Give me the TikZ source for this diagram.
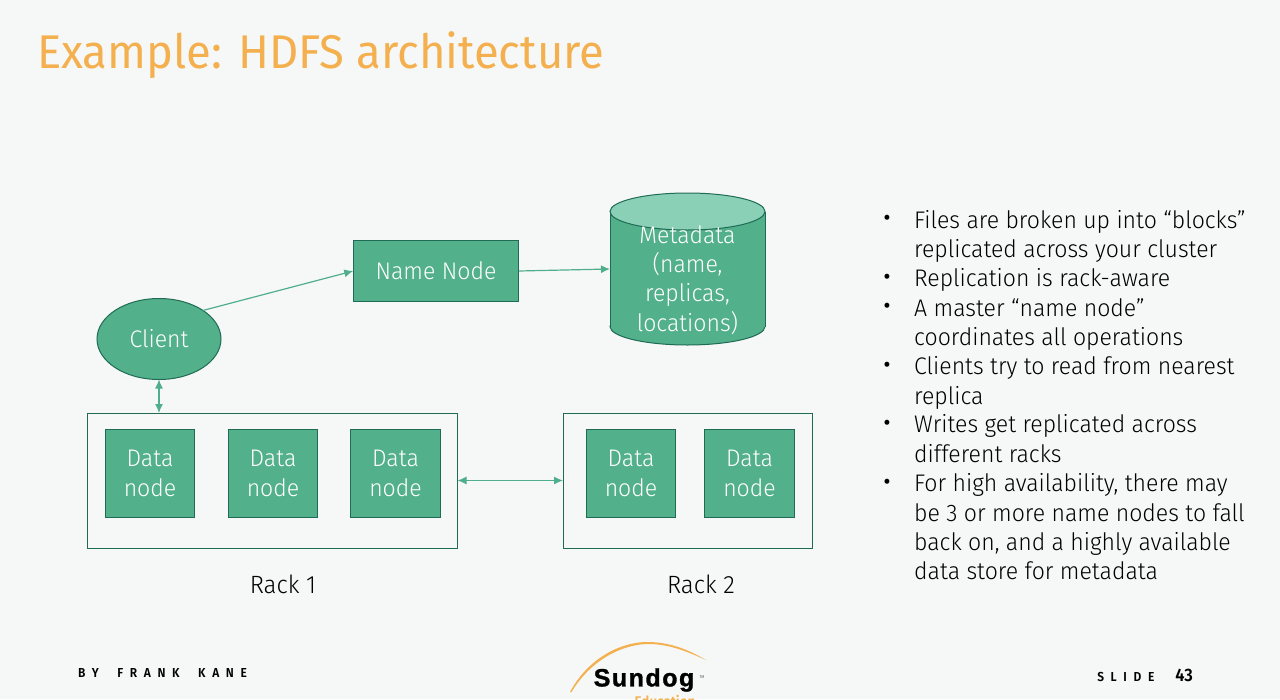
\documentclass[tikz,border=0pt]{standalone}
\usepackage{fontspec}
\setmainfont[UprightFont=* Light, FakeStretch=0.96]{Fira Sans}
\newfontfamily\titlefont[FakeStretch=0.96]{Fira Sans}
\newfontfamily\footfont[LetterSpace=51, WordSpace=0.8, FakeStretch=0.92]{Fira Sans SemiBold}
\newfontfamily\footnumfont[FakeStretch=0.92]{Fira Sans SemiBold}
\newfontfamily\logofont[LetterSpace=6, FakeBold=1.2]{Liberation Sans Bold}
\usetikzlibrary{shapes.geometric,arrows.meta}

\definecolor{slidebg}{HTML}{F6F8F7}
\definecolor{boxgreen}{HTML}{52B08A}
\definecolor{boxedge}{HTML}{1F6B55}
\definecolor{linkgreen}{HTML}{4FAE8B}
\definecolor{lidgreen}{HTML}{8AD0B6}
\definecolor{titleorange}{HTML}{F4B04F}

\tikzset{
    bodytext/.style={font=\fontsize{24}{29.3}\selectfont},
    racktext/.style={font=\fontsize{25}{29.3}\selectfont, inner sep=0pt},
    greenbox/.style={draw=boxedge, fill=boxgreen, line width=1pt, text=white, align=center, inner sep=0pt, outer sep=0pt, bodytext},
    datanode/.style={greenbox, minimum width=89.5pt, minimum height=88.5pt},
    rackbox/.style={draw=boxedge, line width=1pt, inner sep=0pt, outer sep=0pt, minimum height=135pt},
    link/.style={draw=linkgreen, line width=1.2pt, -{Latex[length=9pt,width=8pt]}},
    dbllink/.style={link, {Latex[length=9pt,width=8pt]}-{Latex[length=9pt,width=8pt]}},
    bullet/.style={font=\fontsize{34}{34}\selectfont, inner sep=0pt},
    bullettext/.style={bodytext, anchor=north west, align=left, inner sep=0pt, text depth=0pt},
    footer/.style={font=\fontsize{13}{14}\selectfont, inner sep=0pt}
}

\begin{document}
\begin{tikzpicture}[x=1pt, y=-1pt]
    \fill[slidebg] (0,0) rectangle (1280,699);
    \useasboundingbox (0,0) rectangle (1280,699);

    \node[text=titleorange, font=\titlefont\fontsize{47.3}{56}\selectfont, anchor=west, inner sep=0pt] (title) at (37,55) {Example: HDFS architecture};

    % racks
    \node[rackbox, minimum width=370pt] (rack1) at (272.5,480.5) {};
    \node[rackbox, minimum width=249pt] (rack2) at (687.5,480.5) {};
    \node[racktext] (rack1label) at (283,584) {Rack 1};
    \node[racktext] (rack2label) at (701,584) {Rack 2};

    \foreach \x/\name in {150/dataa, 273/datab, 395.5/datac, 631/datad, 749.5/datae}
        \node[datanode] (\name) at (\x,473.5) {Data\\node};

    \node[greenbox, minimum width=165.5pt, minimum height=61.5pt] (namenode) at (436,271) {Name Node};
    \node[greenbox, shape=ellipse, minimum width=124pt, minimum height=81pt] (client) at (159,339) {Client};

    % cylinder
    \draw[boxedge, fill=boxgreen, line width=1pt] (687.5,326.5) ellipse [x radius=77.5, y radius=18.5];
    \fill[boxgreen] (610,211.5) rectangle (765,326.5);
    \draw[boxedge, line width=1pt] (610,211.5) -- (610,326.5) (765,211.5) -- (765,326.5);
    \draw[boxedge, fill=lidgreen, line width=1pt] (687.5,211.5) ellipse [x radius=77.5, y radius=18.5];
    \node[bodytext, text=white, align=center, inner sep=0pt, outer sep=0pt, minimum width=155pt, minimum height=152pt] (metadata) at (687.5,269) {};
    \node[bodytext, text=white, align=center, inner sep=0pt] (metadatatext) at (687.5,280) {Metadata\\(name,\\replicas,\\locations)};

    \draw[link] (client.33) -- (namenode.west);
    \draw[link] (namenode.east) -- (metadata.west);
    \draw[dbllink] (client.south) -- (client.south |- rack1.north);
    \draw[dbllink] (rack1.east) -- (rack2.west);

    % bullets
    \node[bullet] (dota) at (887,222) {•};
    \node[bullettext] (itema) at (914,210) {Files are broken up into “blocks”\\replicated across your cluster};
    \node[bullet] (dotb) at (887,281) {•};
    \node[bullettext] (itemb) at (914,268.5) {Replication is rack-aware};
    \node[bullet] (dotc) at (887,310) {•};
    \node[bullettext] (itemc) at (914,298) {A master “name node”\\coordinates all operations};
    \node[bullet] (dotd) at (887,369) {•};
    \node[bullettext] (itemd) at (914,356.5) {Clients try to read from nearest\\replica};
    \node[bullet] (dote) at (887,427) {•};
    \node[bullettext] (iteme) at (914,414.5) {Writes get replicated across\\different racks};
    \node[bullet] (dotf) at (887,486) {•};
    \node[bullettext] (itemf) at (914,473.5) {For high availability, there may\\be 3 or more name nodes to fall\\back on, and a highly available\\data store for metadata};

    % footer
    \node[footer, anchor=west] (byline) at (78,673) {\footfont BY\hspace{11pt} FRANK\hspace{11pt} KANE};
    \node[footer, anchor=east] (slidenum) at (1193,675) {\footfont SLIDE\hspace{21pt}\footnumfont\fontsize{18}{18}\selectfont 43};

    % logo
    \fill[titleorange] (570,692) .. controls (590,655) and (625,641) .. (650,642)
        .. controls (675,643) and (692,652) .. (706,660)
        .. controls (690,653) and (672,644.5) .. (650,644)
        .. controls (625,643.5) and (592,658) .. (571.5,692) -- cycle;
    \node[font=\logofont\fontsize{25}{28}\selectfont, text=black, inner sep=0pt] (sundog) at (644,680) {Sundog};
    \node[font=\fontsize{4}{4}\selectfont, inner sep=0pt] (trademark) at (702,677) {TM};
    \node[font=\fontsize{14}{16}\selectfont\bfseries, text=titleorange, inner sep=0pt, anchor=north] (education) at (665,695.5) {Education};
\end{tikzpicture}
\end{document}
